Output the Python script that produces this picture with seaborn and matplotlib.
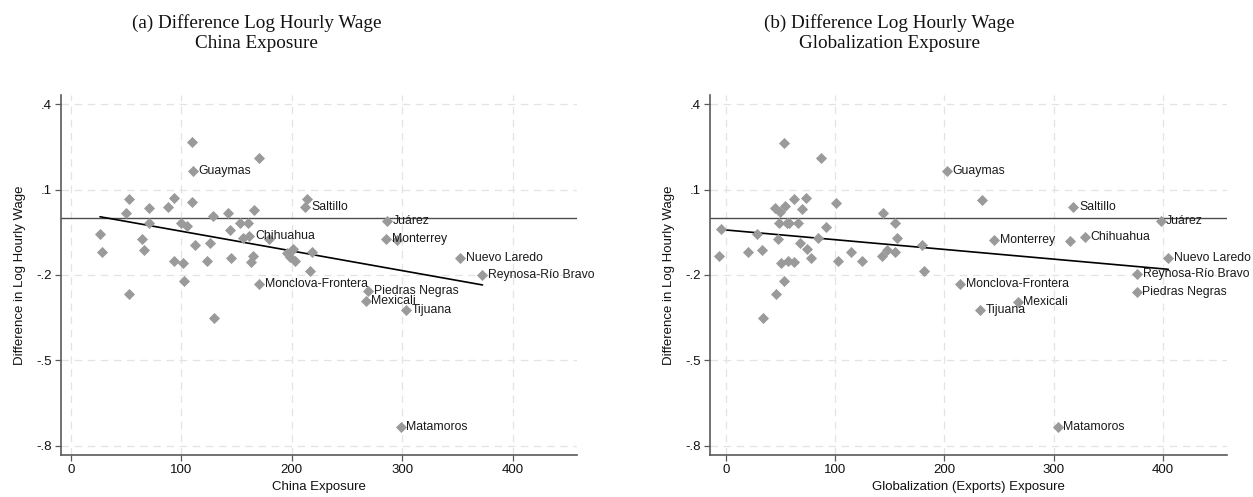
import matplotlib
matplotlib.use("Agg")
import matplotlib.pyplot as plt
import numpy as np
import pandas as pd
import seaborn as sns

# ---- Panel (a): China import exposure vs. change in log hourly wage ----
china_exposure = [109.4, 170.7, 110.4, 53.0, 93.8, 109.5, 71.2, 88.3, 50.0, 129.1,
                  142.6, 165.6, 213.6, 212.3, 71.2, 99.5, 105.5, 144.2, 153.2, 160.2,
                  26.5, 64.2, 155.6, 161.6, 28.1, 66.3, 112.5, 126.1, 179.7, 93.5,
                  101.4, 123.6, 145.1, 164.7, 162.9, 195.5, 201.5, 198.5, 203.0, 218.1,
                  216.6, 102.5, 170.4, 286.0, 285.3, 295.0, 352.3, 372.5, 269.3, 267.0,
                  303.4, 298.6, 53.1, 129.7]
china_wage = [0.268, 0.211, 0.164, 0.066, 0.069, 0.056, 0.035, 0.038, 0.018, 0.006,
              0.017, 0.029, 0.065, 0.038, -0.017, -0.017, -0.030, -0.041, -0.019, -0.019,
              -0.057, -0.075, -0.072, -0.062, -0.121, -0.113, -0.095, -0.089, -0.075, -0.153,
              -0.160, -0.153, -0.142, -0.133, -0.154, -0.122, -0.110, -0.136, -0.150, -0.121,
              -0.187, -0.221, -0.231, -0.011, -0.074, -0.078, -0.140, -0.201, -0.257, -0.292,
              -0.324, -0.733, -0.267, -0.353]
china_city = ["", "", "Guaymas", "", "", "", "", "", "", "",
              "", "", "", "Saltillo", "", "", "", "", "", "",
              "", "", "", "Chihuahua", "", "", "", "", "", "",
              "", "", "", "", "", "", "", "", "", "",
              "", "", "Monclova-Frontera", "Juárez", "Monterrey", "", "Nuevo Laredo",
              "Reynosa-Río Bravo", "Piedras Negras", "Mexicali",
              "Tijuana", "Matamoros", "", ""]

# ---- Panel (b): globalization (exports) exposure vs. change in log hourly wage ----
glob_exposure = [53.4, 86.7, 202.6, 62.3, 73.3, 100.7, 44.9, 54.0, 49.5, 69.3,
                 144.1, 48.8, 55.6, 58.0, 66.2, 91.6, 154.8, -4.9, 28.1, 47.9,
                 84.0, 156.9, 67.8, 73.9, 77.6, -6.1, 20.4, 32.7, 50.1, 56.5,
                 62.5, 102.8, 124.2, 114.1, 142.6, 147.2, 154.8, 179.2, 181.6, 53.4,
                 45.8, 34.2, 214.6, 234.7, 318.1, 398.0, 245.4, 315.0, 328.8, 405.0,
                 376.6, 376.1, 267.1, 232.6, 303.7]
glob_wage = [0.265, 0.211, 0.164, 0.066, 0.069, 0.053, 0.034, 0.042, 0.022, 0.030,
             0.017, -0.019, -0.017, -0.019, -0.019, -0.031, -0.019, -0.040, -0.057, -0.075,
             -0.070, -0.072, -0.089, -0.110, -0.140, -0.133, -0.121, -0.113, -0.160, -0.153,
             -0.155, -0.153, -0.150, -0.121, -0.133, -0.113, -0.121, -0.095, -0.187, -0.221,
             -0.267, -0.353, -0.231, 0.063, 0.037, -0.011, -0.078, -0.080, -0.066, -0.142,
             -0.198, -0.259, -0.294, -0.324, -0.735]
glob_city = ["", "", "Guaymas", "", "", "", "", "", "", "",
             "", "", "", "", "", "", "", "", "", "",
             "", "", "", "", "", "", "", "", "", "",
             "", "", "", "", "", "", "", "", "", "",
             "", "", "Monclova-Frontera", "", "Saltillo", "Juárez", "Monterrey", "",
             "Chihuahua", "Nuevo Laredo",
             "Reynosa-Río Bravo", "Piedras Negras", "Mexicali", "Tijuana", "Matamoros"]

# ---- Axis ticks and titles ----
x_ticks = [0, 100, 200, 300, 400]
y_ticks = [0.4, 0.1, -0.2, -0.5, -0.8]
y_tick_labels = [".4", ".1", "-.2", "-.5", "-.8"]
y_title = "Difference in Log Hourly Wage"
panel_titles = ["(a) Difference Log Hourly Wage\nChina Exposure",
                "(b) Difference Log Hourly Wage\nGlobalization Exposure"]
x_titles = ["China Exposure", "Globalization (Exports) Exposure"]

sns.set_style("white")
plt.rcParams["font.family"] = ["Liberation Sans", "DejaVu Sans"]

MARKER = "#9a9a9a"
SPINE = "#5a5a5a"
GRID = "#e3e3e3"

fig = plt.figure(figsize=(12.53, 4.97), dpi=100)
axes = [fig.add_axes([0.0487, 0.0845, 0.4118, 0.7243]),
        fig.add_axes([0.5666, 0.0845, 0.4124, 0.7243])]
xlims = [(-8.8, 458), (-14.7, 458.5)]
title_x = [0.205, 0.710]

panels = [
    pd.DataFrame({"exposure": china_exposure, "wage": china_wage, "city": china_city}),
    pd.DataFrame({"exposure": glob_exposure, "wage": glob_wage, "city": glob_city}),
]

for i, (ax, df) in enumerate(zip(axes, panels)):
    # reference line at zero
    ax.axhline(0, color="#4d4d4d", lw=1.0, zorder=2)
    # linear fit across the observed range
    sns.regplot(data=df, x="exposure", y="wage", ax=ax, scatter=False, ci=None,
                truncate=True, color="black", line_kws={"lw": 1.2, "zorder": 3})
    sns.scatterplot(data=df, x="exposure", y="wage", ax=ax, marker="D", s=32,
                    color=MARKER, linewidth=0, zorder=4, legend=False)
    for _, row in df[df["city"] != ""].iterrows():
        ax.annotate(row["city"], (row["exposure"], row["wage"]),
                    xytext=(4.0, 0), textcoords="offset points",
                    ha="left", va="center", fontsize=8.8, color="#1a1a1a",
                    annotation_clip=False, zorder=5)

    ax.set_xlim(*xlims[i])
    ax.set_ylim(-0.833, 0.432)
    ax.set_xticks(x_ticks)
    ax.set_xticklabels([str(t) for t in x_ticks])
    ax.set_yticks(y_ticks)
    ax.set_yticklabels(y_tick_labels)
    ax.grid(True, color=GRID, lw=0.9, linestyle=(0, (6, 4.5)))
    ax.set_axisbelow(True)
    for side in ("top", "right"):
        ax.spines[side].set_visible(False)
    for side in ("left", "bottom"):
        ax.spines[side].set_color(SPINE)
        ax.spines[side].set_linewidth(1.2)
    ax.tick_params(axis="both", direction="out", length=4, width=0.9,
                   color=SPINE, labelsize=9.5, labelcolor="#111111", pad=2.5)
    ax.tick_params(axis="y", left=True)
    ax.tick_params(axis="x", bottom=True)
    ax.set_xlabel(x_titles[i], fontsize=9.5, color="#111111", labelpad=3.5)
    ax.set_ylabel(y_title, fontsize=9.5, color="#111111")
    ax.yaxis.set_label_coords(-0.068, 0.5)

    fig.text(title_x[i], 0.972, panel_titles[i], ha="center", va="top",
             fontsize=13.8, family=["Liberation Serif", "DejaVu Serif"],
             color="#111111", linespacing=1.22)

fig.savefig("out.png", dpi=100, facecolor="white")
